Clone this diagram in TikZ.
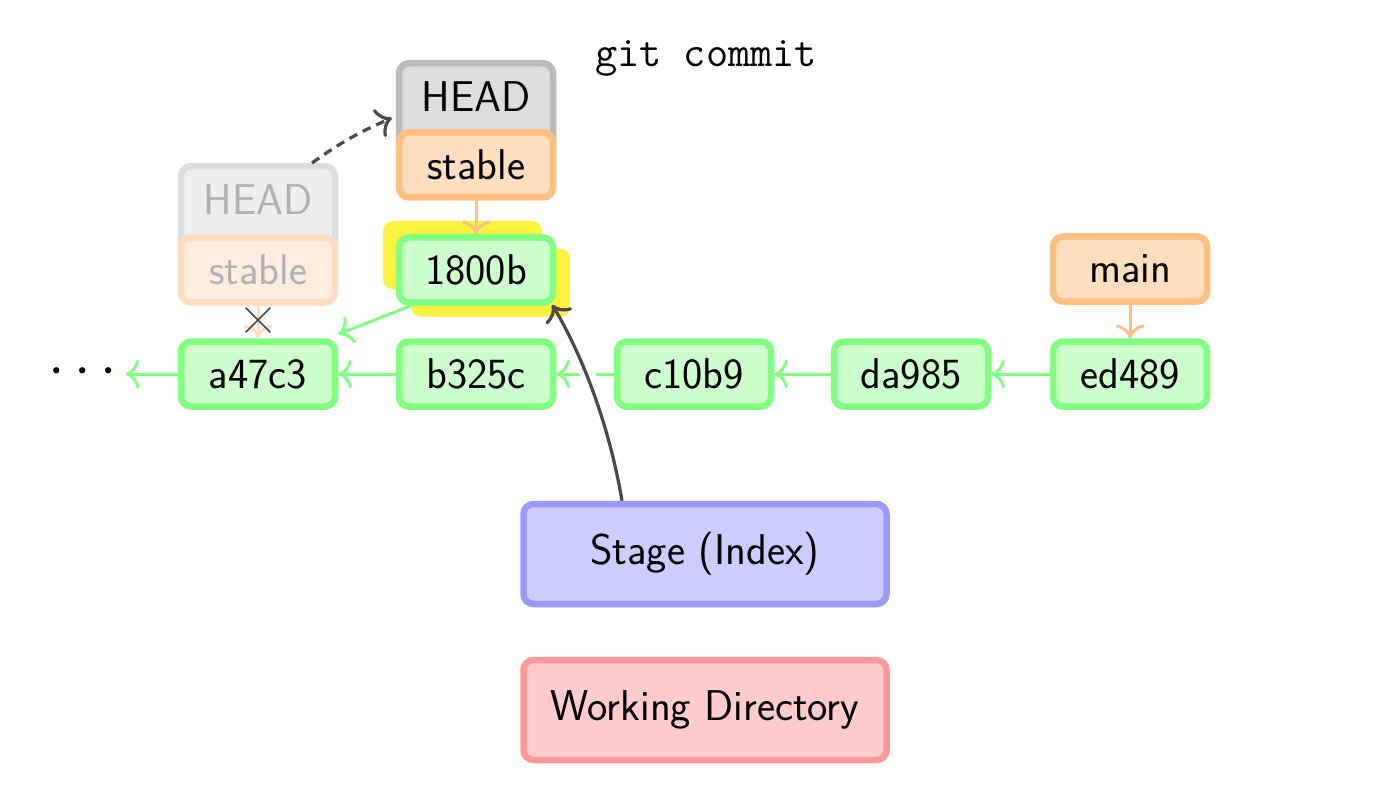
\documentclass[tikz,border=0pt]{standalone}
\usepackage{fontspec}
\usetikzlibrary{arrows.meta,shapes.misc}

\definecolor{commitfill}{HTML}{CCFFCC}
\definecolor{commitline}{HTML}{80FF80}
\definecolor{branchfill}{HTML}{FFDFC0}
\definecolor{branchline}{HTML}{FFBF80}
\definecolor{headfill}{HTML}{DDDDDD}
\definecolor{headline}{HTML}{BBBBBB}
\definecolor{oldheadfill}{HTML}{EEEEEE}
\definecolor{oldheadline}{HTML}{DDDDDD}
\definecolor{oldbranchfill}{HTML}{FFEEDF}
\definecolor{oldbranchline}{HTML}{FFDDC0}
\definecolor{oldtext}{HTML}{B0B0B0}
\definecolor{stagefill}{HTML}{CCCCFF}
\definecolor{stageline}{HTML}{9999FF}
\definecolor{workfill}{HTML}{FFCCCC}
\definecolor{workline}{HTML}{FF9999}
\definecolor{newmark}{HTML}{FFF23F}
\definecolor{darkarrow}{HTML}{4A4A4A}

\tikzset{
  labelfont/.style={font=\sffamily\fontsize{24.5}{29}\selectfont},
  boxbase/.style={rounded corners=0.2cm, line width=0.13cm, inner sep=0pt,
    minimum width=3.08cm, minimum height=1.3cm, labelfont},
  commitbox/.style={boxbase, draw=commitline, fill=commitfill},
  branchbox/.style={boxbase, draw=branchline, fill=branchfill},
  headbox/.style={boxbase, draw=headline, fill=headfill},
  oldheadbox/.style={boxbase, draw=oldheadline, fill=oldheadfill},
  oldbranchbox/.style={boxbase, draw=oldbranchline, fill=oldbranchfill, text=oldtext},
  areabox/.style={boxbase, minimum width=7.26cm, minimum height=2.0cm},
  glowbox/.style={fill=newmark, rounded corners=0.2cm, inner sep=0pt,
    minimum width=3.18cm, minimum height=1.36cm},
  tip/.style={-{To[scale=1.45]}},
  parentarrow/.style={draw=commitline, line width=0.06cm, tip},
  brancharrow/.style={draw=branchline, line width=0.06cm, tip},
  oldbrancharrow/.style={draw=oldbranchline, line width=0.06cm, tip},
  movearrow/.style={draw=darkarrow, line width=0.065cm, dashed,
    dash pattern=on 5pt off 3.5pt, tip},
  stagearrow/.style={draw=darkarrow, line width=0.065cm, tip},
}

\begin{document}
\begin{tikzpicture}
  \useasboundingbox (0,0) rectangle (27.92,15.78);

  % command
  \node[font=\ttfamily\fontsize{24.5}{29}\selectfont] (cmd) at (14.12,14.62) {git commit};

  % old HEAD position (faded)
  \node[oldheadbox, minimum height=2.0cm, anchor=north] (oldhead) at (5.16,12.52) {};
  \node[labelfont, text=oldtext] (oldheadtext) at (5.16,11.78) {HEAD};
  \node[oldbranchbox] (oldstable) at (5.16,10.38) {stable};

  % new HEAD position
  \node[headbox, minimum height=1.92cm, anchor=north] (head) at (9.52,14.58) {};
  \node[labelfont] (headtext) at (9.52,13.84) {HEAD};
  \node[branchbox] (stable) at (9.52,12.48) {stable};

  % highlight behind the new commit
  \node[glowbox] (glowa) at (9.25,10.68) {};
  \node[glowbox] (glowb) at (9.81,10.13) {};
  \node[commitbox] (c1800b) at (9.52,10.38) {1800b};

  % commit chain
  \node[labelfont, inner sep=1pt] (dots) at (1.66,8.34) {\scalebox{1.35}{$\cdots$}};
  \node[commitbox] (a47c3) at (5.16,8.30) {a47c3};
  \node[commitbox] (b325c) at (9.52,8.30) {b325c};
  \node[commitbox] (c10b9) at (13.88,8.30) {c10b9};
  \node[commitbox] (da985) at (18.22,8.30) {da985};
  \node[commitbox] (ed489) at (22.60,8.30) {ed489};
  \node[branchbox] (main) at (22.60,10.40) {main};

  % index and working tree
  \node[areabox, draw=stageline, fill=stagefill] (stage) at (14.10,4.70) {Stage (Index)};
  \node[areabox, draw=workline, fill=workfill] (work) at (14.10,1.58) {Working Directory};

  % parent links
  \draw[parentarrow] (a47c3) -- ([xshift=0.12cm]a47c3.west -| dots.east);
  \draw[parentarrow] (b325c) -- (a47c3);
  \draw[parentarrow] (c10b9) -- (b325c);
  \draw[parentarrow] (da985) -- (c10b9);
  \draw[parentarrow] (ed489) -- (da985);
  \draw[parentarrow] ([xshift=0.3cm]c1800b.south west) -- ([yshift=0.08cm]a47c3.north east);

  % branch pointers
  \draw[brancharrow] (stable) -- (c1800b);
  \draw[brancharrow] (main) -- (ed489);
  \draw[oldbrancharrow] (oldstable) -- (a47c3);
  \node[cross out, draw=darkarrow, line width=0.035cm, minimum size=0.46cm, inner sep=0pt] (xmark) at (5.16,9.38) {};

  % HEAD moves along with the branch
  \draw[movearrow] ([xshift=1.08cm]oldhead.north) to[bend left=6] ([xshift=-0.08cm,yshift=-1.16cm]head.north west);

  % the index becomes the new commit
  \draw[stagearrow, preaction={draw=white, line width=0.3cm, -, solid, shorten <=0.5cm, shorten >=0.6cm}]
    ([xshift=-1.66cm]stage.north) .. controls (12.2,7.18) and (11.7,8.58) .. ([xshift=-0.08cm,yshift=0.02cm]c1800b.south east);
\end{tikzpicture}
\end{document}
